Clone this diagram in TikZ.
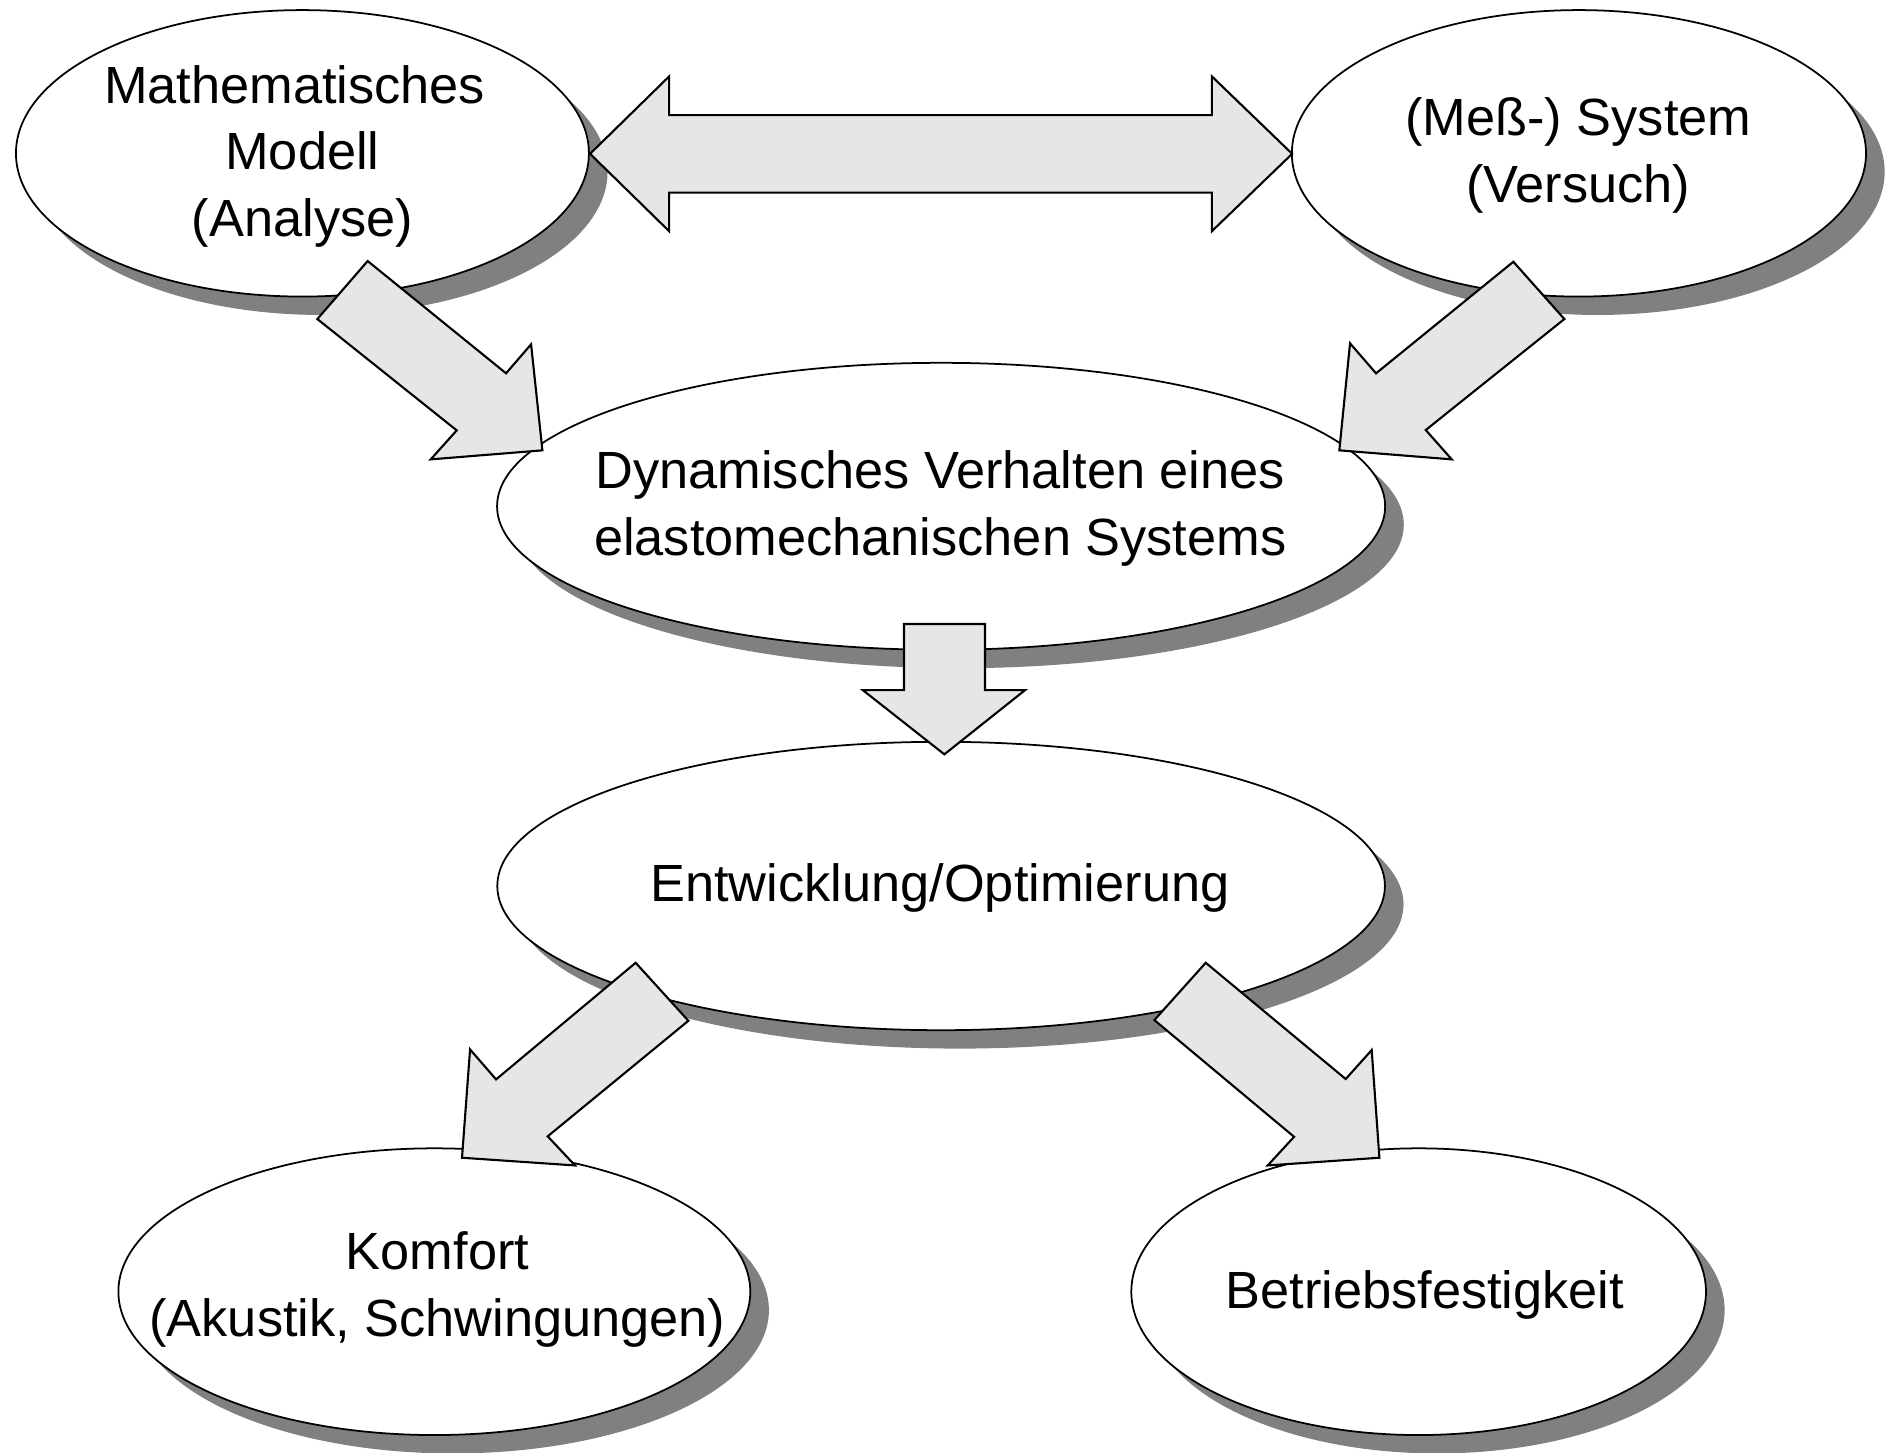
\documentclass[tikz,border=0pt]{standalone}
\usepackage{fontspec}
\setmainfont{Liberation Sans}
\usetikzlibrary{shapes.geometric,shadows}
\definecolor{arrowfill}{HTML}{E6E6E6}
\definecolor{shadowgray}{HTML}{808080}
\begin{document}
\begin{tikzpicture}[x=0.012034cm,y=-0.012034cm,
  ell/.style 2 args={ellipse,draw=black,line width=0.5pt,fill=white,inner sep=0pt,
     minimum width=#1*0.024068cm, minimum height=#2*0.024068cm,
     drop shadow={shadow xshift=0.1865cm,shadow yshift=-0.184cm,fill=shadowgray,opacity=1}},
  lbl/.style={font=\fontsize{14.9}{19}\selectfont,align=center,inner sep=0pt},
  blockarrow/.style={fill=arrowfill,draw=black,line width=0.6pt,line join=miter}]
\useasboundingbox (0,0) rectangle (1568,1207);
\fill[white] (0,0) rectangle (1568,1207);
% ellipses
\node[ell={238.2}{119.1}] (mm) at (251.3,127.4) {};
\node[ell={238.7}{119.1}] (ms) at (1312,127.4) {};
\node[ell={369.2}{119.3}] (dyn) at (782,420.7) {};
\node[ell={369}{119.9}] (ent) at (782,736.2) {};
\node[ell={262.7}{119.2}] (kom) at (360.9,1073.3) {};
\node[ell={238.9}{119.2}] (bet) at (1178.8,1073.3) {};
% texts
\node[lbl] (tmm) at (251.3,130) {Mathematisches\rule{1.56mm}{0pt}\\Modell\\(Analyse)};
\node[lbl] (tms) at (1311.5,129.4) {(Meß-) System\\(Versuch)};
\node[lbl] (tdyn) at (781.3,422.5) {Dynamisches Verhalten eines\\elastomechanischen Systems};
\node[lbl,anchor=base] (tent) at (781,749.2) {Entwicklung/Optimierung};
\node[lbl] (tkom) at (363.5,1071.5) {Komfort\\(Akustik, Schwingungen)};
\node[lbl,anchor=base] (tbet) at (1184,1087.3) {Betriebsfestigkeit};
% block arrows
\draw[blockarrow] (490.3,127.8) -- (556,63.5) -- (556,95.6) -- (1007,95.6) -- (1007,63.5)
  -- (1073.7,127.8) -- (1007,192.1) -- (1007,160) -- (556,160) -- (556,192.1) -- cycle;
\draw[blockarrow] (751.2,518.5) -- (818.5,518.5) -- (818.5,573.4) -- (851.8,573.4)
  -- (784.7,626.8) -- (716.9,573.4) -- (751.2,573.4) -- cycle;
\draw[blockarrow] (305.5,216.9) -- (420.5,310.2) -- (441.3,286.1) -- (450.7,374.2)
  -- (357.9,381.7) -- (379.5,357.6) -- (263.7,265.1) -- cycle;
\draw[blockarrow] (1257.5,217.5) -- (1299.9,265.1) -- (1184.7,357.3) -- (1206.3,381.7)
  -- (1112.9,374.2) -- (1121.8,285.3) -- (1143.4,310.2) -- cycle;
\draw[blockarrow] (528.2,800) -- (572,848.2) -- (455.1,944.2) -- (477.8,968.4)
  -- (383.9,962) -- (390.6,872) -- (412.2,896.9) -- cycle;
\draw[blockarrow] (1001.9,800) -- (959.2,847.6) -- (1075.3,944.6) -- (1053.4,968.4)
  -- (1146.2,962) -- (1139.8,872.5) -- (1118.2,896.6) -- cycle;
\end{tikzpicture}
\end{document}
